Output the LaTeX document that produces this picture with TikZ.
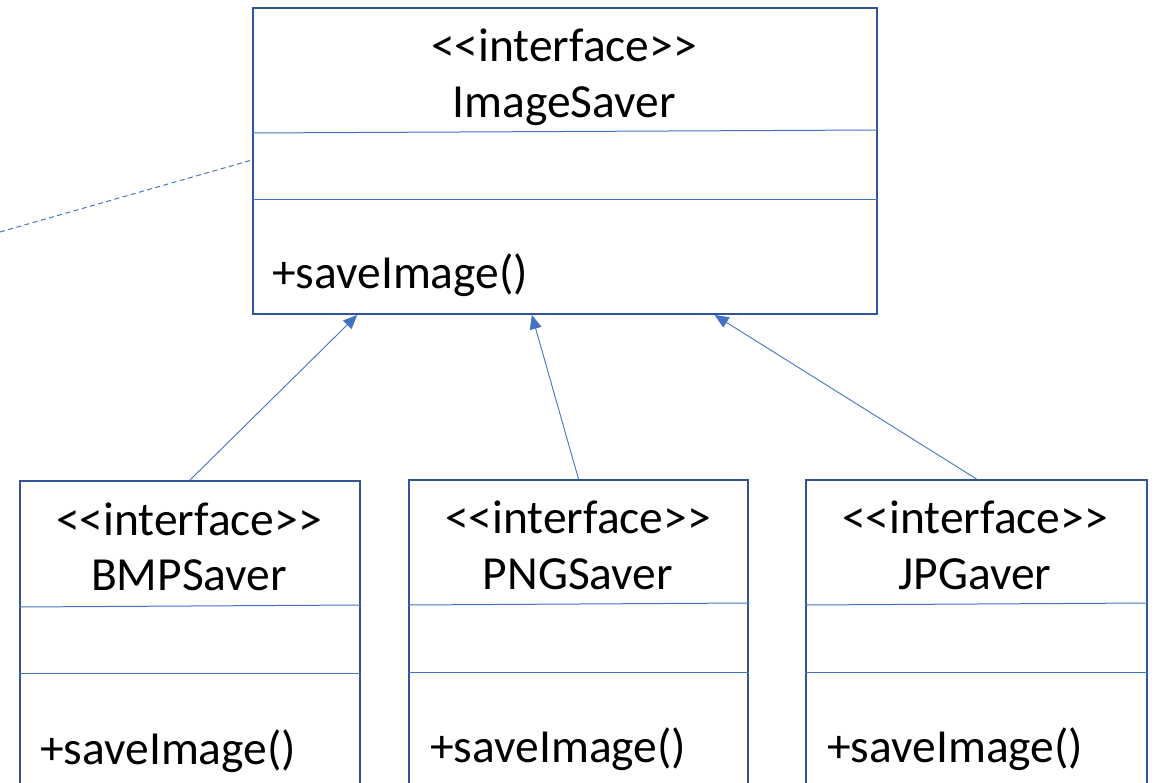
\documentclass[tikz,border=0pt]{standalone}
\usepackage{fontspec}
\setmainfont{Carlito}[Ligatures=TeXOff]
\usetikzlibrary{arrows.meta,calc}
\definecolor{boxblue}{HTML}{2F5597}
\definecolor{lineblue}{HTML}{4472C4}
\begin{document}
\begin{tikzpicture}[x=1pt,y=-1pt,
  umlbox/.style={draw=boxblue,line width=2pt,fill=none,inner sep=0pt},
  divider/.style={draw=lineblue,line width=1pt},
  txt/.style={font=\fontsize{47.5}{57}\selectfont,inner sep=0pt,text=black},
  inherit/.style={draw=lineblue,line width=0.9pt,-{Triangle[length=14pt,width=12pt]}},
  dep/.style={draw=lineblue,line width=1pt,dash pattern=on 5pt off 3.5pt}]
\useasboundingbox (0,0) rectangle (1155,783);
\clip (0,0) rectangle (1155,783);
% boxes
\node[umlbox,minimum width=624pt,minimum height=306pt,anchor=north west] (top) at (252,7) {};
\node[umlbox,minimum width=340pt,minimum height=340pt,anchor=north west] (bmp) at (19,480) {};
\node[umlbox,minimum width=339pt,minimum height=340pt,anchor=north west] (png) at (408,479) {};
\node[umlbox,minimum width=341pt,minimum height=340pt,anchor=north west] (jpg) at (805,479) {};
% dividers
\draw[divider] (top.west |- 0,133) -- (top.east |- 0,130);
\draw[divider] (top.west |- 0,200) -- (top.east |- 0,200);
\draw[divider] (bmp.west |- 0,607) -- (bmp.east |- 0,605);
\draw[divider] (bmp.west |- 0,673) -- (bmp.east |- 0,673);
\draw[divider] (png.west |- 0,605) -- (png.east |- 0,603);
\draw[divider] (png.west |- 0,672) -- (png.east |- 0,672);
\draw[divider] (jpg.west |- 0,605) -- (jpg.east |- 0,603);
\draw[divider] (jpg.west |- 0,672) -- (jpg.east |- 0,672);
% texts
\node[txt,anchor=base] (topst) at (564,62) {<<interface>>};
\node[txt,anchor=base] (topname) at (564,118) {ImageSaver};
\node[txt,anchor=base west] (topop) at (272,288) {+saveImage()};
\node[txt,anchor=base] (bmpst) at (189,535) {<<interface>>};
\node[txt,anchor=base] (bmpname) at (189,590) {BMPSaver};
\node[txt,anchor=base west] (bmpop) at (40,764) {+saveImage()};
\node[txt,anchor=base] (pngst) at (578,533) {<<interface>>};
\node[txt,anchor=base] (pngname) at (578,589) {PNGSaver};
\node[txt,anchor=base west] (pngop) at (430,762) {+saveImage()};
\node[txt,anchor=base] (jpgst) at (975,533) {<<interface>>};
\node[txt,anchor=base] (jpgname) at (975,589) {JPGaver};
\node[txt,anchor=base west] (jpgop) at (827,762) {+saveImage()};
% connectors
\coordinate (t1) at ($(top.south west)!0.168!(top.south east)$);
\coordinate (t2) at ($(top.south west)!0.447!(top.south east)$);
\coordinate (t3) at ($(top.south west)!0.739!(top.south east)$);
\draw[inherit] (bmp.north) -- (t1);
\draw[inherit] (png.north) -- (t2);
\draw[inherit] (jpg.north) -- (t3);
\coordinate (depfree) at (0,232);
\draw[dep] (depfree) -- (top.west |- 0,160);
\end{tikzpicture}
\end{document}
